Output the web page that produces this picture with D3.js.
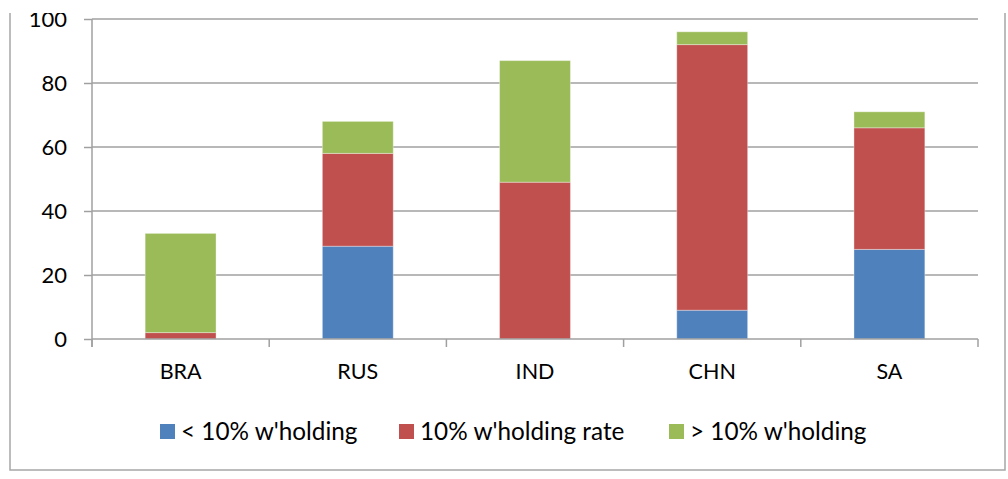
<!DOCTYPE html>
<html><head><meta charset="utf-8">
<script src="https://cdn.jsdelivr.net/npm/d3@7"></script>
<style>body{margin:0;background:#fff}svg{display:block}</style></head>
<body><svg id="c" width="1008" height="479"></svg>
<script>
const categories = ["BRA", "RUS", "IND", "CHN", "SA"];
const seriesNames = ["< 10% w'holding", "10% w'holding rate", "> 10% w'holding"];
const below10 = [0, 29, 0, 9, 28];
const at10 = [2, 29, 49, 83, 38];
const above10 = [31, 10, 38, 4, 5];
const yTicks = [0, 20, 40, 60, 80, 100];
const colors = ["#4F81BD", "#C0504D", "#9BBB59"];

(function () {
const svg = d3.select("#c");
const font = "Lato, 'Open Sans', sans-serif";
const pLeft = 92, pRight = 978, pTop = 19, pBottom = 339;

// outer frame
svg.append("rect").attr("x", 10).attr("y", -10).attr("width", 995).attr("height", 480)
  .attr("fill", "#fff").attr("stroke", "#a6a6a6").attr("stroke-width", 1.5);

const x = d3.scaleBand().domain(categories).range([pLeft, pRight]).paddingInner(0.6).paddingOuter(0.3);
const xb = d3.scaleBand().domain(categories).range([pLeft, pRight]).padding(0);
const y = d3.scaleLinear().domain([0, 100]).range([pBottom, pTop]);

// gridlines
svg.append("g").selectAll("line").data(yTicks.filter(d => d > 0)).join("line")
  .attr("x1", pLeft).attr("x2", pRight).attr("y1", d => y(d)).attr("y2", d => y(d))
  .attr("stroke", "#a0a0a0").attr("stroke-width", 1.5);

const table = categories.map((c, i) => ({cat: c, s0: below10[i], s1: at10[i], s2: above10[i]}));
const stack = d3.stack().keys(["s0", "s1", "s2"])(table);

svg.append("g").selectAll("g").data(stack).join("g").attr("fill", (d, i) => colors[i])
  .selectAll("rect").data(d => d.filter(p => p[1] - p[0] > 0)).join("rect")
  .attr("x", d => x(d.data.cat)).attr("width", x.bandwidth())
  .attr("y", d => y(d[1])).attr("height", d => y(d[0]) - y(d[1]))
  .attr("stroke", "rgba(255,255,255,0.35)").attr("stroke-width", 1);

// y axis
const yAxis = d3.axisLeft(y).tickValues(yTicks).tickSize(8).tickPadding(17);
const gy = svg.append("g").attr("transform", `translate(${pLeft},0)`).call(yAxis);
gy.select(".domain").attr("stroke", "#a0a0a0").attr("stroke-width", 1.5).attr("d", `M0,${pTop}V${pBottom + 8}`);
gy.selectAll(".tick line").attr("stroke", "#a0a0a0").attr("stroke-width", 1.5);
gy.selectAll("text").attr("font-family", font).attr("font-size", 22).attr("fill", "#000");

// x axis
const xAxis = d3.axisBottom(xb).tickSize(0).tickPadding(25);
const gx = svg.append("g").attr("transform", `translate(0,${pBottom})`).call(xAxis);
gx.select(".domain").attr("stroke", "#a0a0a0").attr("stroke-width", 1.5).attr("d", `M${pLeft},0H${pRight}`);
gx.selectAll("text").attr("font-family", font).attr("font-size", 21.5).attr("fill", "#000");
const bounds = categories.map(c => xb(c)).concat([pRight]);
gx.append("g").selectAll("line").data(bounds).join("line")
  .attr("x1", d => d).attr("x2", d => d).attr("y1", 0).attr("y2", 8)
  .attr("stroke", "#a0a0a0").attr("stroke-width", 1.5);

// legend
const legendX = [160, 399, 669];
const lg = svg.append("g").selectAll("g").data(seriesNames).join("g")
  .attr("transform", (d, i) => `translate(${legendX[i]},424)`);
lg.append("rect").attr("width", 15).attr("height", 15).attr("fill", (d, i) => colors[i]);
lg.append("text").attr("x", 21).attr("y", 7.5).attr("dy", "0.35em")
  .attr("font-family", font).attr("font-size", 24.3).attr("fill", "#000").text(d => d);

// top crop band as in reference
svg.append("rect").attr("x", 0).attr("y", 0).attr("width", 1008).attr("height", 13).attr("fill", "#fff");
})();
</script></body></html>
